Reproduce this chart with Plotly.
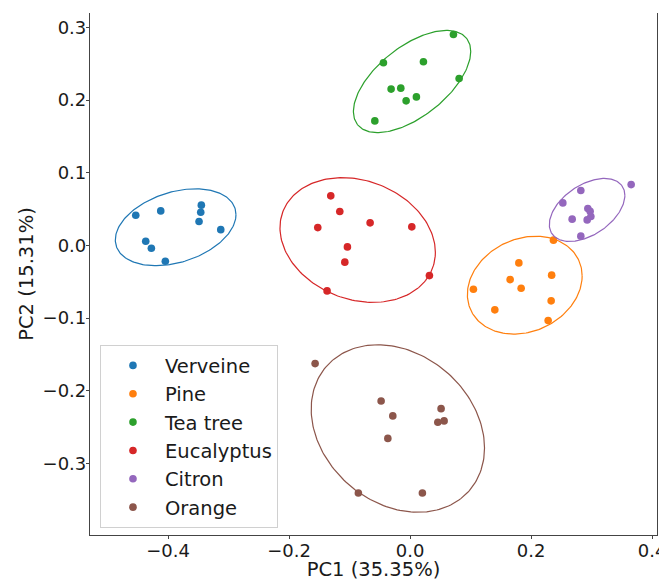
import numpy as np
import plotly.graph_objects as go

# ---- data ----
groups = ["Verveine", "Pine", "Tea tree", "Eucalyptus", "Citron", "Orange"]
colors = ["#1f77b4", "#ff7f0e", "#2ca02c", "#d62728", "#9467bd", "#8c564b"]

verveine_pc1 = [-0.4534, -0.4121, -0.3450, -0.3460, -0.3488, -0.3129, -0.4369, -0.4276, -0.4045]
verveine_pc2 = [0.0416, 0.0475, 0.0554, 0.0457, 0.0328, 0.0217, 0.0058, -0.0039, -0.0218]

pine_pc1 = [0.2369, 0.1797, 0.2339, 0.1653, 0.1835, 0.1046, 0.2331, 0.1400, 0.2281]
pine_pc2 = [0.0072, -0.0241, -0.0410, -0.0471, -0.0590, -0.0603, -0.0764, -0.0888, -0.1036]

teatree_pc1 = [0.0716, -0.0441, 0.0220, 0.0810, -0.0314, -0.0154, -0.0066, 0.0104, -0.0583]
teatree_pc2 = [0.2904, 0.2514, 0.2528, 0.2298, 0.2152, 0.2165, 0.1990, 0.2045, 0.1714]

eucalyptus_pc1 = [-0.1311, -0.1162, -0.1526, -0.0661, 0.0028, -0.1036, -0.1079, -0.1372, 0.0319]
eucalyptus_pc2 = [0.0682, 0.0466, 0.0245, 0.0310, 0.0255, -0.0021, -0.0231, -0.0627, -0.0416]

citron_pc1 = [0.3653, 0.2821, 0.2524, 0.2937, 0.2975, 0.2678, 0.2926, 0.2987, 0.2821]
citron_pc2 = [0.0837, 0.0755, 0.0585, 0.0507, 0.0471, 0.0361, 0.0351, 0.0397, 0.0127]

orange_pc1 = [-0.1570, -0.0479, -0.0286, 0.0512, 0.0458, 0.0562, -0.0368, -0.0855, 0.0203]
orange_pc2 = [-0.1628, -0.2142, -0.2348, -0.2248, -0.2435, -0.2417, -0.2658, -0.3409, -0.3409]

pc1_all = [verveine_pc1, pine_pc1, teatree_pc1, eucalyptus_pc1, citron_pc1, orange_pc1]
pc2_all = [verveine_pc2, pine_pc2, teatree_pc2, eucalyptus_pc2, citron_pc2, orange_pc2]

x_tickvals = [-0.4, -0.2, 0.0, 0.2, 0.4]
x_ticktext = ["\u22120.4", "\u22120.2", "0.0", "0.2", "0.4"]
y_tickvals = [-0.3, -0.2, -0.1, 0.0, 0.1, 0.2, 0.3]
y_ticktext = ["\u22120.3", "\u22120.2", "\u22120.1", "0.0", "0.1", "0.2", "0.3"]

x_title = "PC1 (35.35%)"
y_title = "PC2 (15.31%)"
N_STD = 2.0


def confidence_ellipse(x, y, n_std=2.0, n=200):
    x = np.asarray(x)
    y = np.asarray(y)
    cov = np.cov(x, y)
    L = np.linalg.cholesky(cov)
    t = np.linspace(0, 2 * np.pi, n)
    circ = np.vstack([np.cos(t), np.sin(t)])
    pts = n_std * (L @ circ)
    return x.mean() + pts[0], y.mean() + pts[1]


fig = go.Figure()
FONT = "DejaVu Sans"
TXT = "#1a1a1a"

for name, col, xs, ys in zip(groups, colors, pc1_all, pc2_all):
    fig.add_trace(go.Scatter(
        x=xs, y=ys, mode="markers", name=name,
        marker=dict(color=col, size=7.6, line=dict(width=0)),
    ))

for name, col, xs, ys in zip(groups, colors, pc1_all, pc2_all):
    ex, ey = confidence_ellipse(xs, ys, N_STD)
    fig.add_trace(go.Scatter(
        x=ex, y=ey, mode="lines", showlegend=False, hoverinfo="skip",
        line=dict(color=col, width=1.2),
    ))

axis_common = dict(
    showgrid=False, zeroline=False, automargin=False,
    showline=True, linecolor="#444444", linewidth=1.2,
    ticks="outside", ticklen=3, tickwidth=1, tickcolor="#444444",
    tickfont=dict(family=FONT, size=18, color=TXT),
    ticklabelstandoff=-4,
)

fig.update_xaxes(
    range=[-0.529, 0.408], tickmode="array", tickvals=x_tickvals, ticktext=x_ticktext,
    title=dict(text=x_title, font=dict(family=FONT, size=19.5, color=TXT), standoff=3),
    **axis_common,
)
fig.update_yaxes(
    range=[-0.3988, 0.320], tickmode="array", tickvals=y_tickvals, ticktext=y_ticktext,
    mirror=True,
    title=dict(text=y_title, font=dict(family=FONT, size=19.5, color=TXT), standoff=3),
    **axis_common,
)

# the page body has an 8px margin, so the figure is sized/offset to compensate
fig.update_layout(
    width=659, height=573,
    margin=dict(l=82, r=10, t=5, b=46),
    plot_bgcolor="white", paper_bgcolor="white",
    font=dict(family=FONT, size=18, color=TXT),
    legend=dict(
        x=0.0176, y=0.013, xanchor="left", yanchor="bottom",
        bgcolor="rgba(255,255,255,0.8)", bordercolor="#d0d0d0", borderwidth=1,
        font=dict(family=FONT, size=19.5, color=TXT),
        itemwidth=54,
    ),
)

fig.write_html("out.html")
